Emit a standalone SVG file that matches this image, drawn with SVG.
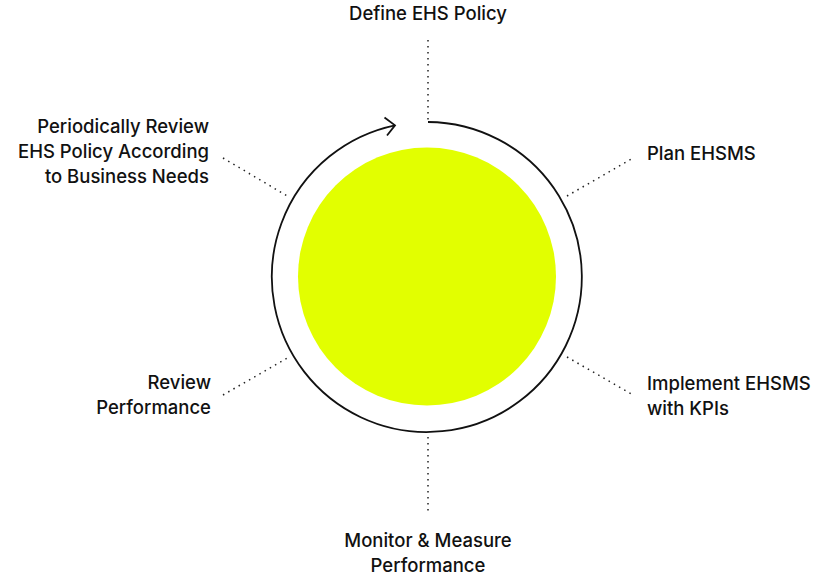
<svg xmlns="http://www.w3.org/2000/svg" width="832" height="580" viewBox="0 0 832 580">
<style>
.t{font-family:Inter,"Noto Sans",sans-serif;font-size:18.5px;font-weight:500;fill:#111;}
.d{stroke:#222;stroke-width:1.5;stroke-dasharray:1.5 4.5;fill:none;}
.ring{stroke:#111;stroke-width:1.8;fill:none;}
</style>
<rect width="832" height="580" fill="#fff"/>
<g id="core"><circle cx="427" cy="276.5" r="129" fill="#e2ff00"/></g>
<g id="connectors">
<path class="ring" d="M428 122 A155 155 0 1 1 395 125.3"/>
<path class="ring" d="M384.5 117.5 L395 125.3 L387 135.5"/>
<line class="d" x1="428" y1="40" x2="428" y2="120"/>
<line class="d" x1="428" y1="437" x2="428" y2="515"/>
<line class="d" x1="223" y1="158" x2="289" y2="197"/>
<line class="d" x1="567" y1="196" x2="633" y2="158"/>
<line class="d" x1="223" y1="395" x2="289" y2="357"/>
<line class="d" x1="567" y1="357" x2="633" y2="395"/>
</g>
<g id="n1"><text class="t" x="428" y="20" text-anchor="middle">Define EHS Policy</text></g>
<g id="n2"><text class="t" x="647" y="160">Plan EHSMS</text></g>
<g id="n3"><text class="t" x="647" y="390">Implement EHSMS</text><text class="t" x="647" y="415">with KPIs</text></g>
<g id="n4"><text class="t" x="428" y="547" text-anchor="middle">Monitor &amp; Measure</text><text class="t" x="428" y="572" text-anchor="middle">Performance</text></g>
<g id="n5"><text class="t" x="211" y="389" text-anchor="end">Review</text><text class="t" x="211" y="414" text-anchor="end">Performance</text></g>
<g id="n6"><text class="t" x="209" y="133" text-anchor="end">Periodically Review</text><text class="t" x="209" y="158" text-anchor="end">EHS Policy According</text><text class="t" x="209" y="183" text-anchor="end">to Business Needs</text></g>
</svg>
